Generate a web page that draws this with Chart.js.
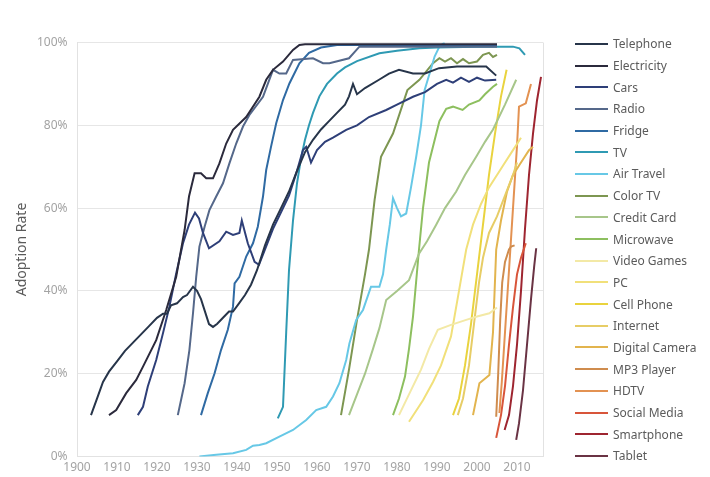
<!DOCTYPE html>
<html>
<head>
<meta charset="utf-8">
<script src="https://cdn.jsdelivr.net/npm/chart.js@4/dist/chart.umd.min.js"></script>
<style>
  html, body { margin: 0; padding: 0; background: #fff; }
  #wrap { position: relative; width: 710px; height: 477px; }
  #chart { position: absolute; left: 0; top: 0; }
  #legend { position: absolute; left: 575px; top: 33px; font: 12px 'Noto Sans', sans-serif; color: #5b5b5b; }
  #legend .item { height: 21.7px; display: flex; align-items: center; white-space: nowrap; }
  #legend .swatch { width: 33px; height: 2px; margin-right: 5px; }
</style>
</head>
<body>
<div id="wrap">
  <canvas id="chart" width="710" height="477"></canvas>
  <div id="legend"></div>
</div>
<script>
// Household adoption of each technology: [year, share of households in %]
const telephone = [[1903.5,10],[1905,14],[1906.5,18],[1908,20.5],[1910,23],[1912,25.5],[1914,27.5],[1916,29.5],[1918,31.5],[1920,33.5],[1921.5,34.5],[1922.5,34.5],[1923.5,36.5],[1925,37],[1926.5,38.5],[1927.5,39],[1929,41],[1930,40],[1931,38],[1932,35],[1933,32],[1934,31.3],[1935,32],[1936.5,33.5],[1938,35],[1939,35],[1940.5,37],[1942,39],[1943.5,41.5],[1945,45],[1947,51],[1949,56],[1951,60],[1953,64],[1955,69],[1957,73.5],[1959,76.5],[1961,79],[1963,81],[1965,83],[1967,85],[1968,87],[1969,90],[1970,87.5],[1972,89],[1975.5,91],[1978,92.5],[1980.5,93.4],[1984,92.5],[1987,92.5],[1990.5,93.8],[1995,94.2],[2002.3,94.2],[2004.8,92]];
const electricity = [[1908,10],[1909.8,11.2],[1912.3,15.3],[1914.8,18.5],[1916.5,21.7],[1919.8,28.1],[1922.3,35.4],[1924.8,43.4],[1926.9,54.7],[1928,62.8],[1929.4,68.4],[1931,68.4],[1932.3,67.2],[1934,67.2],[1935.6,70.8],[1937.3,75.6],[1939,78.9],[1942.3,82],[1945.6,86.9],[1947.3,91],[1949,93.4],[1951.5,95.4],[1954,98.2],[1955.6,99.4],[1957,99.6],[2005,99.6]];
const cars = [[1915.2,10],[1916.5,12],[1917.7,16.9],[1919.8,23.3],[1921.5,29.8],[1923.1,36.2],[1924.8,44.2],[1926.5,51.5],[1928,56],[1929.5,58.9],[1930.5,57.5],[1931.5,54],[1933,50.3],[1935.6,52],[1937.3,54.3],[1939,53.5],[1940.6,54],[1941.2,57],[1942.7,51.5],[1944.4,47],[1945.5,46.3],[1947,50],[1949,55],[1951,59],[1953,63],[1955,69],[1956.5,74],[1957.3,74.8],[1958.5,71],[1960,74],[1962,76],[1964,77],[1967.3,78.9],[1970,80],[1973,82],[1977.3,83.7],[1980,85],[1984,86.9],[1987,88],[1990,90],[1992.3,91],[1994,90.3],[1996,91.5],[1998,90.5],[2000,91.5],[2002,90.8],[2004.8,91]];
const radio = [[1925.2,10],[1926,13.6],[1926.9,17.7],[1928.1,25.7],[1929,34.6],[1929.8,43.4],[1930.6,50.7],[1931.9,55.5],[1933.1,59.5],[1934.8,62.8],[1936.5,66],[1938.1,70.8],[1939.8,75.6],[1941.5,79.7],[1943.1,82.5],[1946.5,86.9],[1949,93.4],[1950.6,92.5],[1952.3,92.5],[1954,95.8],[1959,96.2],[1961.5,95],[1963.1,95],[1968,96.2],[1970.6,99],[2005,99]];
const fridge = [[1931,10],[1932.7,15.3],[1934.4,20.1],[1936,25.7],[1937.7,30.6],[1939,36.2],[1939.4,41.8],[1940.6,43.4],[1942.3,48.3],[1944,51.5],[1945.2,55.5],[1946.5,62.8],[1947.3,69.2],[1948.5,74.8],[1949.8,80.5],[1951.5,86.1],[1953.1,90.1],[1955.6,95],[1958,97.5],[1961,98.8],[1965,99.4],[2005,99.4]];
const tv = [[1950.2,9.2],[1951.5,12],[1952.3,30],[1953,45],[1954,57],[1955,66],[1956,72],[1957,76.5],[1958,80],[1959,83],[1960.6,87],[1962.5,90],[1965,92.5],[1967,94],[1970,95.5],[1975.6,97.4],[1980,98],[1985.6,98.6],[1990,98.8],[2000,99],[2009,99],[2010.6,98.6],[2012,97]];
const airTravel = [[1930.6,0],[1934.8,0.4],[1939,0.8],[1942.3,1.6],[1944,2.6],[1945.6,2.8],[1947.3,3.2],[1950.6,4.8],[1954,6.4],[1957.3,8.8],[1959.8,11.2],[1962.3,12],[1964,14.5],[1965.6,17.7],[1967.3,23.3],[1968.1,27.3],[1969.8,33],[1971.5,35.4],[1973.5,41],[1975.6,41],[1976.5,44],[1977.3,50],[1978.2,56],[1979,62.4],[1980,60],[1981,58],[1982.3,58.7],[1983.5,65],[1984.8,72.4],[1986,80],[1986.9,88.5],[1988.3,93],[1989.4,96.6],[1990.6,99],[1991.9,100]];
const colorTV = [[1966,10],[1968,21],[1970,33],[1972,44],[1973,50],[1974.4,62],[1976,72.4],[1979,78],[1981.5,85.3],[1982.6,88.5],[1985.6,91],[1989,95],[1990.6,96.2],[1992,95.4],[1993.5,96.2],[1995,95],[1996.5,96],[1998,95],[2000,95.4],[2001.5,97],[2003,97.5],[2004,96.5],[2005,97]];
const creditCard = [[1968,10],[1970,15],[1972,20],[1974,26],[1975.6,31],[1977.3,37.8],[1980,40],[1983,42.6],[1985.5,49],[1987.5,52],[1989.8,56],[1992,60],[1994.8,64],[1997,68],[1999.8,72.4],[2002,76],[2004,79],[2007,85],[2009.8,91]];
const microwave = [[1979,10],[1980.5,14],[1982,19.3],[1983,26],[1984,33.8],[1985.5,50],[1986.5,60],[1988,71],[1990.6,81],[1992.3,84],[1994,84.5],[1996.4,83.7],[1998,85],[2000.6,86],[2002,87.5],[2004,89.3],[2005,90]];
const videoGames = [[1980.5,10],[1983,15],[1986,21],[1988,26],[1990.2,30.6],[1993.5,31.8],[1997.3,33],[2000,33.8],[2003.1,34.6],[2005,36]];
const pc = [[1983,8.4],[1986.5,13.6],[1989,18],[1991,22],[1993.5,29],[1995.5,40],[1997.3,50],[1999,56],[2001,61],[2003,65],[2005,68],[2007,71],[2009,74],[2011,77]];
const cellPhone = [[1994,10],[1995.5,14],[1997,22],[1998.5,32],[2000,44],[2001.5,56],[2003,68],[2004.5,78],[2006,87],[2007.4,93.4]];
const internet = [[1995.2,10],[1996.5,14],[1998,22],[1999.5,34],[2000.5,42],[2001.5,48],[2003,54],[2005,58],[2007,63],[2009,68],[2010,71]];
const digitalCamera = [[1999,10],[2000.6,17.7],[2003.1,19.7],[2004,30],[2004.8,50],[2006,57],[2007.5,64],[2009,68],[2011,71],[2013,74],[2014,74.8]];
const mp3Player = [[2004.8,9.6],[2005.3,20],[2005.8,33],[2006.3,42],[2007,47],[2008,50],[2008.5,50.7],[2009.4,51]];
const hdtv = [[2005.6,10.5],[2006.2,18],[2007,30],[2008,45],[2009,60],[2010,75],[2010.5,84.5],[2012.2,85.3],[2013.5,90]];
const socialMedia = [[2004.8,4.5],[2006,10],[2007,17],[2008,27],[2009,36],[2010,44],[2011,48],[2012.2,51.5]];
const smartphone = [[2006.9,6.4],[2008,10],[2009,17],[2010,27],[2011,40],[2012,55],[2013,68],[2014,78],[2015,86],[2016,91.7]];
const tablet = [[2009.8,4],[2010.5,8],[2011.5,16],[2012.5,27],[2013.5,38],[2014.3,46],[2014.8,50.3]];

const seriesNames = ['Telephone','Electricity','Cars','Radio','Fridge','TV','Air Travel','Color TV','Credit Card','Microwave','Video Games','PC','Cell Phone','Internet','Digital Camera','MP3 Player','HDTV','Social Media','Smartphone','Tablet'];
const seriesData = [telephone, electricity, cars, radio, fridge, tv, airTravel, colorTV, creditCard, microwave, videoGames, pc, cellPhone, internet, digitalCamera, mp3Player, hdtv, socialMedia, smartphone, tablet];
const seriesColors = ['#27354a','#2b2a3c','#2e3f78','#55688a','#2f6aa3','#2f9ab3','#67c8e6','#7d9651','#a7c68a','#8dbf5f','#f3e9a6','#f1e07a','#e9d33e','#e7cd66','#e2b44e','#cf8c4e','#e39252','#d8553a','#9e2530','#6a3344'];

const yearTicks = [1900,1910,1920,1930,1940,1950,1960,1970,1980,1990,2000,2010];

const FONT = "'Noto Sans', sans-serif";

// Light frame on the right edge of the plot area
const frameRight = {
  id: 'frameRight',
  beforeDatasetsDraw(chart) {
    const {ctx, chartArea} = chart;
    ctx.save();
    ctx.strokeStyle = '#e2e2e2';
    ctx.lineWidth = 1;
    ctx.beginPath();
    ctx.moveTo(Math.round(chartArea.right) + 0.5, chartArea.top);
    ctx.lineTo(Math.round(chartArea.right) + 0.5, chartArea.bottom);
    ctx.stroke();
    ctx.restore();
  }
};

const chart = new Chart(document.getElementById('chart'), {
  type: 'line',
  data: {
    datasets: seriesNames.map((name, i) => ({
      label: name,
      data: seriesData[i].map(([x, y]) => ({x, y})),
      borderColor: seriesColors[i],
      backgroundColor: seriesColors[i],
      borderWidth: 2,
      pointRadius: 0,
      tension: 0,
      fill: false
    }))
  },
  options: {
    responsive: false,
    animation: false,
    layout: { padding: { top: 42.5, right: 167, left: 0, bottom: 0 } },
    plugins: { legend: { display: false }, tooltip: { enabled: false } },
    scales: {
      x: {
        type: 'linear',
        min: 1900,
        max: 2016.5,
        afterBuildTicks(scale) { scale.ticks = yearTicks.map(v => ({value: v})); },
        afterFit(scale) { scale.height = 20.5; },
        ticks: { padding: 4, color: '#a3a3a3', font: { family: FONT, size: 12 }, callback: v => String(v), maxRotation: 0 },
        grid: { display: false, drawTicks: false },
        border: { display: true, color: '#e2e2e2' }
      },
      y: {
        min: 0,
        max: 100,
        afterFit(scale) { scale.width = 77; },
        ticks: { stepSize: 20, padding: 9.5, color: '#a3a3a3', font: { family: FONT, size: 12 }, callback: v => v + '%' },
        grid: { color: '#e6e6e6', drawTicks: false },
        border: { display: true, color: '#e2e2e2' },
        title: { display: true, text: 'Adoption Rate', color: '#5a5a5a', font: { family: FONT, size: 14 }, padding: { top: 13.6 } }
      }
    }
  },
  plugins: [frameRight]
});

// Legend entries built from the chart's datasets
const legendEl = document.getElementById('legend');
chart.data.datasets.forEach(ds => {
  const item = document.createElement('div');
  item.className = 'item';
  const sw = document.createElement('span');
  sw.className = 'swatch';
  sw.style.background = ds.borderColor;
  const label = document.createElement('span');
  label.textContent = ds.label;
  item.appendChild(sw);
  item.appendChild(label);
  legendEl.appendChild(item);
});
</script>
</body>
</html>
